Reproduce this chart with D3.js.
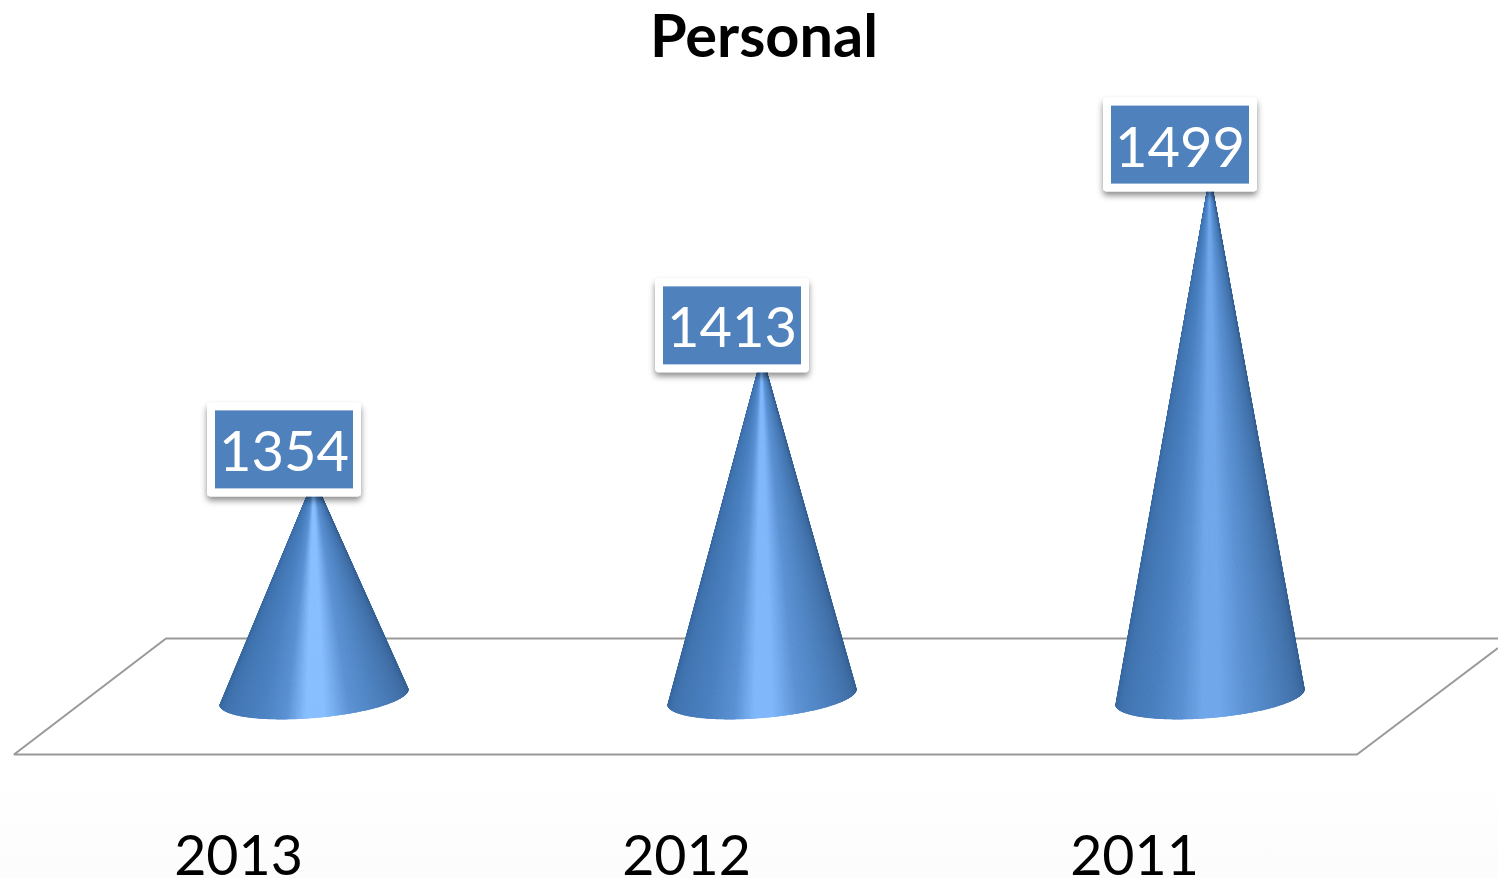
<!DOCTYPE html>
<html>
<head>
<meta charset="utf-8" />
<script src="https://cdn.jsdelivr.net/npm/d3@7"></script>
<style>
  html, body { margin: 0; padding: 0; background: #fff; overflow: hidden; }
  svg { display: block; font-family: Lato, sans-serif; }
</style>
</head>
<body>
<div id="chart"></div>
<script>
const title = 'Personal';
const years = ['2013', '2012', '2011'];
const values = [1354, 1413, 1499];
const glints = ['#88bfff', '#80b7fb', '#70a7ea'];

const size = { width: 1498, height: 878 };

const svg = d3
  .select('#chart')
  .append('svg')
  .attr('width', size.width)
  .attr('height', size.height);

const defs = svg.append('defs');

const shadow = defs
  .append('filter')
  .attr('id', 'label-shadow')
  .attr('x', '-10%')
  .attr('y', '-10%')
  .attr('width', '120%')
  .attr('height', '130%');
shadow
  .append('feDropShadow')
  .attr('dx', 0)
  .attr('dy', 4)
  .attr('stdDeviation', 3)
  .attr('flood-color', '#000')
  .attr('flood-opacity', 0.45);

// very faint grey at the foot of the slide
const fade = defs
  .append('linearGradient')
  .attr('id', 'foot-fade')
  .attr('x1', 0)
  .attr('x2', 0)
  .attr('y1', 0)
  .attr('y2', 1);
fade.append('stop').attr('offset', 0).attr('stop-color', '#fff');
fade.append('stop').attr('offset', 1).attr('stop-color', '#fcfcfc');
svg
  .append('rect')
  .attr('y', 770)
  .attr('width', size.width)
  .attr('height', size.height - 770)
  .attr('fill', 'url(#foot-fade)');

const x = d3.scalePoint().domain(years).range([314, 1210]);
const y = d3.scaleLinear().domain([1250, 1500]).range([697, 171.5]);

// floor
const floor = svg
  .append('g')
  .attr('fill', 'none')
  .attr('stroke', '#999')
  .attr('stroke-width', 2)
  .attr('stroke-linejoin', 'bevel');
floor.append('path').attr('d', 'M 1510 638.5 L 166 638.5 L 14 754.5 L 1357 754.5 L 1498 648');

// cones, drawn as a fan of thin slices so the shading runs up to the tip
const coneHalfWidth = 95;
const coneDepth = 21;
const tilt = -0.085;
const sliceCount = 120;

const basePoint = (cx, t) => {
  const px = coneHalfWidth * Math.cos(t);
  const py = coneDepth * Math.sin(t);
  return [
    cx + px * Math.cos(tilt) - py * Math.sin(tilt),
    y.range()[0] + px * Math.sin(tilt) + py * Math.cos(tilt),
  ];
};

const cones = svg.append('g');

years.forEach((year, i) => {
  const cx = x(year);
  const apex = [cx, y(values[i])];
  const shade = d3
    .scaleLinear()
    .domain([0, 0.1, 0.3, 0.4, 0.47, 0.53, 0.62, 0.74, 0.9, 1])
    .range(['#34639a', '#3f72ad', '#4a80c0', '#5a91d3', glints[i], glints[i], '#5c92d4', '#4c80bd', '#3f6da3', '#345f92']);

  const arc = d3.range(sliceCount + 1).map((k) => {
    const u = k / sliceCount;
    return basePoint(cx, Math.PI * (1 - u));
  });

  const clipId = `cone-clip-${year}`;
  defs
    .append('clipPath')
    .attr('id', clipId)
    .append('path')
    .attr('d', d3.line()([apex, ...arc]) + 'Z');

  const cone = cones.append('g').attr('clip-path', `url(#${clipId})`);
  d3.range(sliceCount).forEach((k) => {
    const color = shade((k + 0.5) / sliceCount);
    cone
      .append('path')
      .attr('d', d3.line()([apex, arc[k], arc[k + 1]]) + 'Z')
      .attr('fill', color)
      .attr('stroke', color)
      .attr('stroke-width', 1);
  });
});

// value labels
const labelOffset = -30;
const label = { width: 154, height: 94, pad: 8, gap: 18 };

const labels = svg
  .selectAll('g.value-label')
  .data(values)
  .enter()
  .append('g')
  .attr('class', 'value-label')
  .attr('transform', (d, i) => `translate(${x(years[i]) + labelOffset}, ${y(d) + label.gap})`);

labels
  .append('rect')
  .attr('x', -label.width / 2)
  .attr('y', -label.height)
  .attr('width', label.width)
  .attr('height', label.height)
  .attr('rx', 4)
  .attr('fill', '#fff')
  .attr('filter', 'url(#label-shadow)');

labels
  .append('rect')
  .attr('x', -label.width / 2 + label.pad)
  .attr('y', -label.height + label.pad)
  .attr('width', label.width - label.pad * 2)
  .attr('height', label.height - label.pad * 2)
  .attr('fill', '#4f81bd');

labels
  .append('text')
  .text((d) => d)
  .attr('text-anchor', 'middle')
  .attr('y', -25)
  .attr('fill', '#fff')
  .style('font-size', '56px');

// category axis
const axis = svg
  .append('g')
  .attr('transform', 'translate(-76, 822)')
  .call(d3.axisBottom(x).tickSize(0).tickPadding(0));
axis.select('.domain').remove();
axis
  .selectAll('text')
  .attr('fill', '#000')
  .attr('dy', 0)
  .attr('y', 53)
  .style('font-family', 'Lato, sans-serif')
  .style('font-size', '55.5px');

svg
  .append('text')
  .text(title)
  .attr('x', 764)
  .attr('y', 57)
  .attr('text-anchor', 'middle')
  .attr('fill', '#000')
  .attr('font-weight', 'bold')
  .style('font-size', '59.5px');
</script>
</body>
</html>
